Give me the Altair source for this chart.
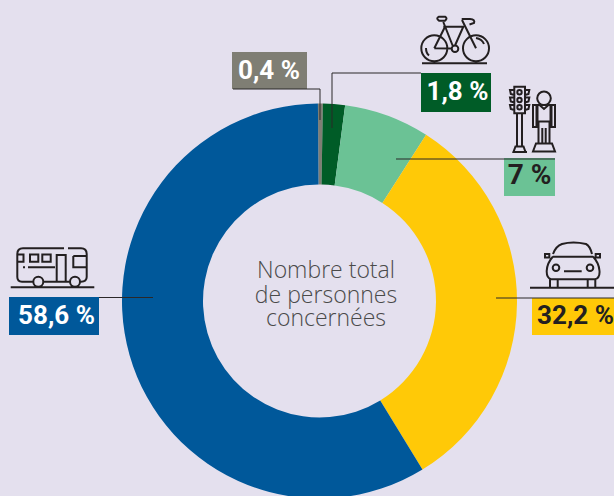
import altair as alt
import pandas as pd
import math

# Data
modes = ["Autre", "Vélo", "Piéton", "Voiture", "Transports en commun"]
values = [0.4, 1.8, 7.0, 32.2, 58.6]
labels = ["0,4 %", "1,8 %", "7 %", "32,2 %", "58,6 %"]
center_lines = ["Nombre total", "de personnes", "concernées"]

colors = ["#7f7e74", "#005c27", "#6bc295", "#ffc907", "#00589a"]
BG = "#e4e0ee"
INK = "#231f20"
CX, CY, R_OUT, R_IN = 319.5, 301, 197.5, 116.5
TURN = -0.008

dummy = pd.DataFrame({"a": [0]})
slices = pd.DataFrame({"mode": modes, "value": values, "rank": list(range(len(modes)))})


def circle(cx, cy, r):
    return f"M{cx-r} {cy}A{r} {r} 0 1 0 {cx+r} {cy}A{r} {r} 0 1 0 {cx-r} {cy}Z"


def rrect(x0, y0, x1, y1):
    return f"M{x0} {y0}L{x1} {y0}L{x1} {y1}L{x0} {y1}Z"


bike = " ".join([
    circle(434.3, 48.3, 13), circle(476, 48.3, 13), circle(455, 48.7, 3.3),
    "M422 63.3L487 63.3",
    "M443.3 26.7L463.3 26.7L455 45.5",
    "M443.3 22L452.8 46",
    "M434.3 48.3L445 26.7",
    "M434.3 48.3L451.7 48.5",
    "M462 20L476 48.3",
    "M461.7 19L470 19Q475.5 19.5 474 23L469.5 24.5",
    "M439 16.7L445 16.7Q448 18.5 445 20.7L439 20.7Q435.5 18.5 439 16.7Z",
    "M426 48Q426 53 429 55.5", "M476 38Q482 39 484 44",
])

person_light = " ".join([
    rrect(514.3, 86.7, 525, 113.3),
    circle(519.5, 92.3, 2.2), circle(519.5, 100, 2.2), circle(519.5, 107.3, 2.2),
    "M514.3 90L510 90L510.8 94L514.3 95",
    "M514.3 97.5L510 97.5L510.8 101.5L514.3 102.5",
    "M514.3 105L510 105L510.8 109L514.3 110",
    "M525 90L529.3 90L528.5 94L525 95",
    "M525 97.5L529.3 97.5L528.5 101.5L525 102.5",
    "M525 105L529.3 105L528.5 109L525 110",
    "M517 113.3L517 146.5", "M522 113.3L522 146.5",
    "M515.5 146.5L523.5 146.5L525.5 152L513.5 152Z", "M512.5 152L527 152",
    circle(544, 98.3, 6.8),
    "M539 105L549 105L555 105L555 127L551.5 127L551.5 106",
    "M549 105L539 105L533 105L533 127L536.5 127L536.5 106",
    "M537.5 106L537.5 121.5L550.5 121.5L550.5 106",
    "M539.5 105L544 109L548.5 105",
    "M538.5 121.5L538.5 143", "M549.5 121.5L549.5 143",
    "M542.3 128L542.3 143", "M545.7 128L545.7 143",
    "M536 143.5L552 143.5L555 151.5L533 151.5Z",
])

car = " ".join([
    "M553 254Q556 246 562 244Q573 241 586 244Q590 246 592 254",
    "M553 256.7L593 256.7",
    "M553 256.5Q547 263 546.7 271Q546.5 278 551 279.3L595 279.3Q600 278 599.5 271Q599 263 593 256.5",
    circle(556, 267.7, 3.3), circle(590, 267.7, 3.3),
    "M564 271.3L581.7 271.3",
    rrect(545, 254, 549.3, 257.5), rrect(595.7, 254, 600, 257.5),
    "M550 279.3L550 287.5", "M557.7 279.3L557.7 287.5",
    "M587.7 279.3L587.7 287.5", "M595.3 279.3L595.3 287.5",
    "M530 287.7L614 287.7",
])

bus = " ".join([
    "M33 281.7L22 281.7Q17.3 281.7 17.3 277L17.3 254Q17.3 248.3 23 248.3L64 248.3",
    "M68 248.3L81 248.3Q86.7 248.3 86.7 254L86.7 277Q86.7 281.7 81 281.7L80 281.7",
    circle(38.3, 281.7, 5), circle(75, 281.7, 5),
    "M43.5 281.7L70 281.7",
    "M10.7 287.3L94.3 287.3",
    rrect(30, 254.5, 38.3, 261.7), rrect(42.3, 254.5, 50.7, 261.7),
    "M17.3 254.5L23.5 254.5L23.5 261.7L17.3 261.7",
    "M56.7 281.7L56.7 255L65.7 255L65.7 281.7",
    "M73.3 256L86.7 256", "M73.3 256L73.3 267.3L86.7 267.3",
    "M28 267.3L55 267.3", "M23 267.3L25 267.3",
])

# Layers
donut = alt.Chart(slices).mark_arc(
    innerRadius=R_IN, outerRadius=R_OUT
).encode(
    theta=alt.Theta("value:Q", stack=True,
                    scale=alt.Scale(range=[TURN, 2 * math.pi + TURN])),
    color=alt.Color("mode:N", scale=alt.Scale(domain=modes, range=colors), legend=None),
    order=alt.Order("rank:Q"),
    x=alt.value(CX),
    y=alt.value(CY),
)


def box(x0, x1, y0, y1, color):
    return alt.Chart(dummy).mark_rect(color=color).encode(
        x=alt.value(x0), x2=alt.value(x1), y=alt.value(y0), y2=alt.value(y1)
    )


def seg(x0, y0, x1, y1):
    return alt.Chart(dummy).mark_rule(color="#2b2828", strokeWidth=1).encode(
        x=alt.value(x0), x2=alt.value(x1), y=alt.value(y0), y2=alt.value(y1)
    )


def label(text, x, y, color, size=26):
    return alt.Chart(dummy).mark_text(
        text=text, font="Roboto", fontWeight="bold", fontSize=size,
        color=color, align="center", baseline="middle",
    ).encode(x=alt.value(x), y=alt.value(y))


def centre(text, y):
    return alt.Chart(dummy).mark_text(
        text=text, font="Open Sans", fontWeight=300, fontSize=23,
        color="#4a4a4a", align="center", baseline="middle",
    ).encode(x=alt.value(326), y=alt.value(y))


def icon(path):
    return alt.Chart(dummy).mark_point(
        shape=path, size=4, filled=False, stroke=INK, strokeWidth=2, opacity=1,
    ).encode(x=alt.value(0), y=alt.value(0))


layers = [
    donut,
    box(232, 307, 52, 89, colors[0]),
    box(421, 491, 73, 112, colors[1]),
    box(504, 555, 158, 196, colors[2]),
    box(532, 614, 298, 335, colors[3]),
    box(9, 99, 297, 335, colors[4]),
    seg(233, 89, 320, 89), seg(320, 89, 320, 120),
    seg(332, 73, 421, 73), seg(332, 73, 332, 128),
    seg(396, 159, 555, 159),
    seg(496, 298, 614, 298),
    seg(99, 297.5, 153, 297.5),
    label(labels[0], 269, 71, "white"),
    label(labels[1], 457.5, 92, "white"),
    label(labels[2], 529.5, 176, INK, 28),
    label(labels[3], 575.5, 316, INK),
    label(labels[4], 56.5, 316, "white"),
    centre(center_lines[0], 271),
    centre(center_lines[1], 295.5),
    centre(center_lines[2], 319),
    icon(bike), icon(person_light), icon(car), icon(bus),
]

chart = alt.layer(*layers).properties(
    width=614, height=496, padding=0, background=BG,
    autosize=alt.AutoSizeParams(type="none"),
).configure_view(stroke=None)

chart.save("out.html", embed_options={
    "renderer": "svg", "actions": False,
    "defaultStyle": f"html,body{{margin:0;padding:0;overflow:hidden;background:{BG}}}",
})
